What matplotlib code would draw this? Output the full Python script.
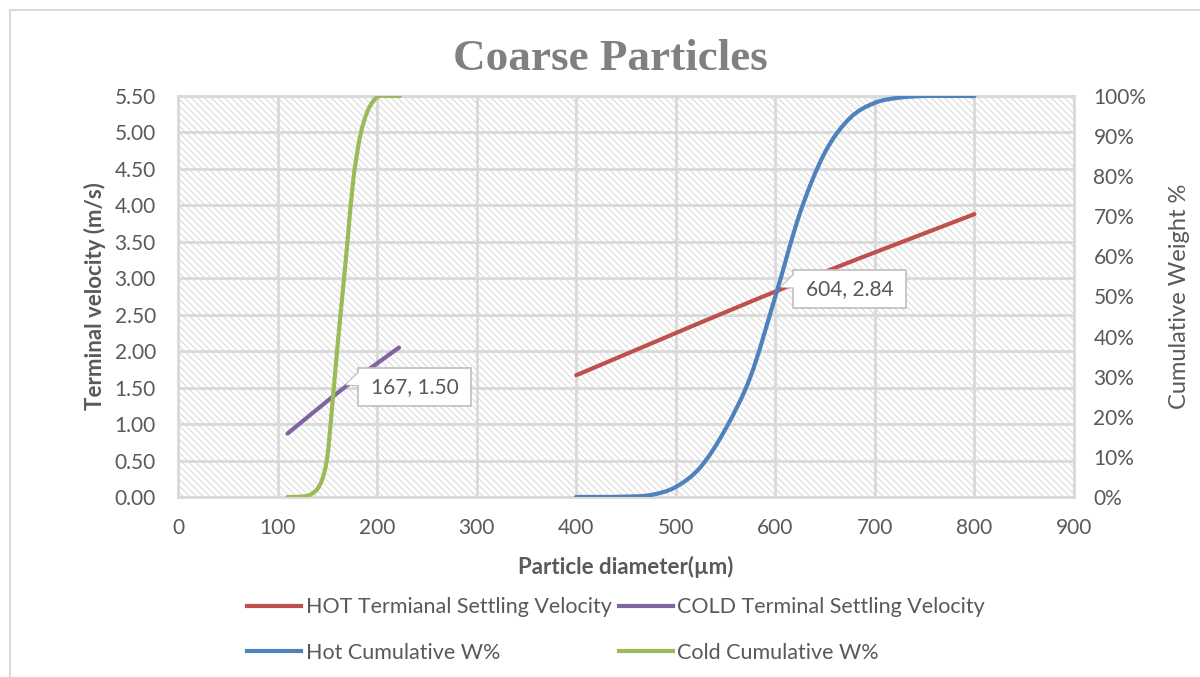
import matplotlib
matplotlib.use("Agg")
import matplotlib.pyplot as plt
from matplotlib.lines import Line2D
from matplotlib.patches import Rectangle, Polygon, PathPatch
from matplotlib.path import Path
from matplotlib.transforms import ScaledTranslation
from matplotlib.ticker import FixedLocator, FuncFormatter

# ---- data ----
hot_vel_d = [400, 604, 800]
hot_vel_v = [1.67, 2.84, 3.88]

cold_vel_d = [110, 167, 222]
cold_vel_v = [0.87, 1.50, 2.05]

hot_cum_d = [400, 425, 450, 475, 500, 525, 550, 575, 600, 625, 650, 675, 700, 725, 750, 775, 800]
hot_cum_w = [0.0, 0.02, 0.1, 0.5, 2.5, 7.5, 17.0, 30.0, 50.0, 71.0, 86.0, 94.5, 98.3, 99.6, 100.0, 100.0, 100.0]

cold_cum_d = [110, 120, 130, 135, 140, 145, 150, 155, 160, 165, 170, 176, 183, 190, 197, 203, 213, 223]
cold_cum_w = [0.0, 0.05, 0.3, 0.9, 2.0, 4.5, 10.0, 23.0, 37.0, 50.0, 63.0, 79.0, 90.0, 96.0, 99.0, 100.0, 100.0, 100.0]

x_ticks = [0, 100, 200, 300, 400, 500, 600, 700, 800, 900]
y_ticks = [0.0, 0.5, 1.0, 1.5, 2.0, 2.5, 3.0, 3.5, 4.0, 4.5, 5.0, 5.5]
pct_ticks = [0, 10, 20, 30, 40, 50, 60, 70, 80, 90, 100]

callouts = [(604, 2.84), (167, 1.50)]

# ---- styling ----
TEXT = "#595959"
GRID = "#d9d9d9"
C_HOT_V = "#c0504d"
C_COLD_V = "#8064a2"
C_HOT_C = "#4f81bd"
C_COLD_C = "#9bbb59"
LW = 3.0
FS = 15

plt.rcParams["font.family"] = ["Lato", "DejaVu Sans"]
plt.rcParams["hatch.linewidth"] = 0.8
plt.rcParams["hatch.color"] = "#dadada"


def smooth_line(axis, xs, ys, color):
    """Draw a series as a smoothed (Catmull-Rom style Bezier) curve through its points."""
    pts = list(zip(xs, ys))
    n = len(pts)
    verts = [pts[0]]
    codes = [Path.MOVETO]
    for i in range(n - 1):
        p0 = pts[i - 1] if i > 0 else pts[i]
        p1 = pts[i]
        p2 = pts[i + 1]
        p3 = pts[i + 2] if i + 2 < n else pts[i + 1]
        c1 = (p1[0] + (p2[0] - p0[0]) / 6, p1[1] + (p2[1] - p0[1]) / 6)
        c2 = (p2[0] - (p3[0] - p1[0]) / 6, p2[1] - (p3[1] - p1[1]) / 6)
        verts += [c1, c2, p2]
        codes += [Path.CURVE4] * 3
    patch = PathPatch(Path(verts, codes), fill=False, edgecolor=color, lw=LW,
                      capstyle="round", joinstyle="round", zorder=3)
    axis.add_patch(patch)
    return Line2D([], [], color=color, lw=LW)


fig = plt.figure(figsize=(12, 6.77), dpi=100)
W, H = 1200, 677
ax = fig.add_axes([178 / W, 1 - 497 / H, (1074 - 178) / W, (497 - 96) / H])

ax.set_xlim(0, 900)
ax.set_ylim(0, 5.5)

# hatched plot-area background
ax.add_patch(Rectangle((0, 0), 1, 1, transform=ax.transAxes, facecolor="white",
                       edgecolor="#dadada", hatch="\\" * 5, linewidth=0, zorder=0))

ax.xaxis.set_major_locator(FixedLocator(x_ticks))
ax.yaxis.set_major_locator(FixedLocator(y_ticks))
ax.yaxis.set_major_formatter(FuncFormatter(lambda v, p: f"{v:.2f}"))
ax.grid(True, color=GRID, linewidth=2, zorder=1)
ax.set_axisbelow(True)
for s in ax.spines.values():
    s.set_color(GRID)
    s.set_linewidth(2)
ax.tick_params(length=0, colors=TEXT, labelsize=FS)
ax.tick_params(axis="y", pad=16)
ax.tick_params(axis="x", pad=15)

ax2 = ax.twinx()
ax2.set_ylim(0, 100)
ax2.yaxis.set_major_locator(FixedLocator(pct_ticks))
ax2.yaxis.set_major_formatter(FuncFormatter(lambda v, p: f"{v:.0f}%"))
ax2.tick_params(length=0, colors=TEXT, labelsize=FS, pad=14)
for s in ax2.spines.values():
    s.set_visible(False)

h_hv = smooth_line(ax, hot_vel_d, hot_vel_v, C_HOT_V)
h_cv = smooth_line(ax, cold_vel_d, cold_vel_v, C_COLD_V)
h_hc = smooth_line(ax2, hot_cum_d, hot_cum_w, C_HOT_C)
h_cc = smooth_line(ax2, cold_cum_d, cold_cum_w, C_COLD_C)

# data-label callouts for the velocity lines
for (dx, dv) in callouts:
    tr = fig.dpi_scale_trans + ScaledTranslation(dx, dv, ax.transData)
    ax2.add_patch(Polygon([(0.02, 0.03), (0.145, 0.16), (0.145, 0.02)], closed=True,
                          transform=tr, facecolor="white", edgecolor="#bfbfbf",
                          linewidth=1.2, zorder=5))
    ax2.add_patch(Rectangle((0.14, -0.18), 1.13, 0.38, transform=tr, facecolor="white",
                            edgecolor="#bfbfbf", linewidth=1.2, zorder=6))
    ax2.add_patch(Polygon([(0.02, 0.03), (0.15, 0.155), (0.15, 0.025)], closed=True,
                          transform=tr, facecolor="white", edgecolor="none", zorder=7))
    ax2.text(0.705, 0.005, f"{dx}, {dv:.2f}", transform=tr, ha="center", va="center",
             fontsize=FS, color=TEXT, zorder=8)

ax.set_xlabel("Particle diameter(µm)", fontsize=16, fontweight="bold", color=TEXT, labelpad=13)
ax.set_ylabel("Terminal velocity (m/s)", fontsize=16, fontweight="bold", color=TEXT, labelpad=6)
ax2.set_ylabel("Cumulative Weight %", fontsize=17, color=TEXT, labelpad=16)

fig.text(610 / W, 1 - 70 / H, "Coarse Particles", ha="center", va="baseline",
         fontsize=32.5, fontweight="bold", color="#808080", family="Liberation Serif")

fig.legend([h_hv, h_hc, h_cv, h_cc],
           ["HOT Termianal Settling Velocity", "Hot Cumulative W%",
            "COLD Terminal Settling Velocity", "Cold Cumulative W%"],
           ncol=2, loc="upper left", bbox_to_anchor=(228 / W, 1 - 578 / H),
           frameon=False, fontsize=15.5, handlelength=2.5, handletextpad=0.2,
           columnspacing=0.35, labelspacing=1.18, labelcolor=TEXT)

# chart-area border
fig.add_artist(Line2D([10 / W, 10 / W], [0, 1 - 10 / H], color=GRID, lw=1.5))
fig.add_artist(Line2D([10 / W, 1], [1 - 10 / H, 1 - 10 / H], color=GRID, lw=1.5))

fig.savefig("out.png", dpi=100)
